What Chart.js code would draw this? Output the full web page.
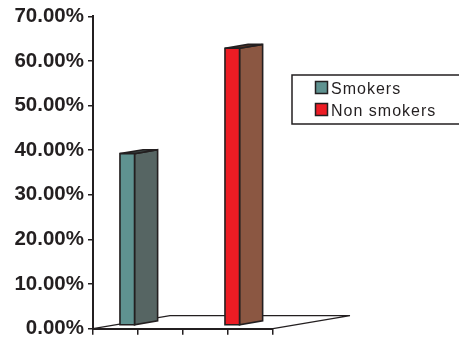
<!DOCTYPE html>
<html>
<head>
<meta charset="utf-8">
<script src="https://cdn.jsdelivr.net/npm/chart.js@4.4.1/dist/chart.umd.min.js"></script>
<style>
  html, body { margin: 0; padding: 0; background: #ffffff; overflow: hidden; }
  #wrap { position: relative; width: 459px; height: 345px; }
</style>
</head>
<body>
<div id="wrap"><canvas id="c" width="459" height="345"></canvas></div>
<script>
// Category slots along the floor (unlabelled) and the two series
const categories = ['', '', '', ''];
const seriesNames = ['Smokers', 'Non smokers'];
const smokers = [38.5, null, null, null];
const nonSmokers = [null, null, 62.1, null];
const yTickValues = [0, 10, 20, 30, 40, 50, 60, 70];

const INK = '#231f20';
const frontColors = ['#5f9290', '#ed1c24'];
const sideColors = ['#566563', '#8b5742'];
const topColors = ['#3f4a49', '#5c3527'];

// Depth of the floor (back edge offset) and the bars' placement within it
const FLOOR_DX = 77, FLOOR_DY = -13;
const BAR_FRONT = 0.25, BAR_DEPTH = 0.3;

const floorPlugin = {
  id: 'floor3d',
  beforeDatasetsDraw(chart) {
    const { ctx, chartArea: a } = chart;
    ctx.save();
    ctx.strokeStyle = INK;
    ctx.lineWidth = 1.3;
    ctx.beginPath();
    ctx.moveTo(a.left, a.bottom);
    ctx.lineTo(a.left + FLOOR_DX, a.bottom + FLOOR_DY);
    ctx.lineTo(a.right + FLOOR_DX, a.bottom + FLOOR_DY);
    ctx.lineTo(a.right, a.bottom);
    ctx.stroke();
    ctx.restore();
  }
};

const barsPlugin = {
  id: 'bars3d',
  afterDatasetsDraw(chart) {
    const { ctx } = chart;
    const ox = FLOOR_DX * BAR_FRONT, oy = FLOOR_DY * BAR_FRONT;
    const dx = FLOOR_DX * BAR_DEPTH, dy = FLOOR_DY * BAR_DEPTH;
    ctx.save();
    ctx.strokeStyle = INK;
    ctx.lineWidth = 1.6;
    ctx.lineJoin = 'miter';
    chart.data.datasets.forEach((ds, di) => {
      const meta = chart.getDatasetMeta(di);
      meta.data.forEach((el, i) => {
        if (ds.data[i] == null) return;
        const p = el.getProps(['x', 'y', 'base', 'width'], true);
        const x0 = p.x - p.width / 2 + ox, x1 = p.x + p.width / 2 + ox;
        const yt = p.y + oy, yb = p.base + oy;
        // side face
        ctx.beginPath();
        ctx.moveTo(x1, yt);
        ctx.lineTo(x1 + dx, yt + dy);
        ctx.lineTo(x1 + dx, yb + dy);
        ctx.lineTo(x1, yb);
        ctx.closePath();
        ctx.fillStyle = sideColors[di];
        ctx.fill();
        ctx.stroke();
        // top face
        ctx.beginPath();
        ctx.moveTo(x0, yt);
        ctx.lineTo(x0 + dx, yt + dy);
        ctx.lineTo(x1 + dx, yt + dy);
        ctx.lineTo(x1, yt);
        ctx.closePath();
        ctx.fillStyle = topColors[di];
        ctx.fill();
        ctx.stroke();
        // front face
        ctx.beginPath();
        ctx.rect(x0, yt, x1 - x0, yb - yt);
        ctx.fillStyle = frontColors[di];
        ctx.fill();
        ctx.stroke();
      });
    });
    ctx.restore();
  }
};

// Legend panel: open on the right, running off the canvas edge
const legendPlugin = {
  id: 'legendBox',
  afterDraw(chart) {
    const { ctx } = chart;
    const bx = 292, by = 75, bh = 49, right = chart.width + 10;
    ctx.save();
    ctx.fillStyle = '#ffffff';
    ctx.fillRect(bx, by, right - bx, bh);
    ctx.strokeStyle = INK;
    ctx.lineWidth = 1.5;
    ctx.beginPath();
    ctx.moveTo(right, by);
    ctx.lineTo(bx, by);
    ctx.lineTo(bx, by + bh);
    ctx.lineTo(right, by + bh);
    ctx.stroke();
    ctx.font = '16px "Liberation Sans", Arial, sans-serif';
    ctx.textBaseline = 'alphabetic';
    ctx.letterSpacing = '1px';
    chart.data.datasets.forEach((ds, i) => {
      const rowY = 81 + i * 22;
      ctx.fillStyle = frontColors[i];
      ctx.fillRect(315.5, rowY + 0.5, 12, 12);
      ctx.lineWidth = 1.5;
      ctx.strokeRect(315.5, rowY + 0.5, 12, 12);
      ctx.fillStyle = INK;
      ctx.fillText(ds.label, 331, rowY + 12.5);
    });
    ctx.restore();
  }
};

new Chart(document.getElementById('c'), {
  type: 'bar',
  data: {
    labels: categories,
    datasets: [
      { label: seriesNames[0], data: smokers, backgroundColor: 'rgba(0,0,0,0)', borderWidth: 0 },
      { label: seriesNames[1], data: nonSmokers, backgroundColor: 'rgba(0,0,0,0)', borderWidth: 0 }
    ]
  },
  options: {
    responsive: false,
    animation: false,
    devicePixelRatio: 1,
    layout: { padding: { top: 15, right: 186, bottom: 0, left: 0 } },
    datasets: { bar: { categoryPercentage: 0.667, barPercentage: 0.97 } },
    plugins: { legend: { display: false }, tooltip: { enabled: false } },
    scales: {
      x: {
        type: 'category',
        grid: { display: true, drawOnChartArea: false, offset: true, tickLength: 6, color: INK, lineWidth: 1.5 },
        border: { display: true, color: INK, width: 2 },
        ticks: { display: false },
        afterFit(scale) { scale.height = 16; }
      },
      y: {
        min: 0,
        max: 70,
        afterBuildTicks(scale) { scale.ticks = yTickValues.map(v => ({ value: v })); },
        grid: { display: true, drawOnChartArea: false, tickLength: 5, color: INK, lineWidth: 1.5 },
        border: { display: true, color: INK, width: 2 },
        ticks: {
          color: INK,
          padding: 4,
          font: { family: '"Liberation Sans", Arial, sans-serif', size: 20.5, weight: 'bold' },
          callback: v => v.toFixed(2) + '%'
        },
        afterFit(scale) { scale.width = 93; }
      }
    }
  },
  plugins: [floorPlugin, barsPlugin, legendPlugin]
});
</script>
</body>
</html>
